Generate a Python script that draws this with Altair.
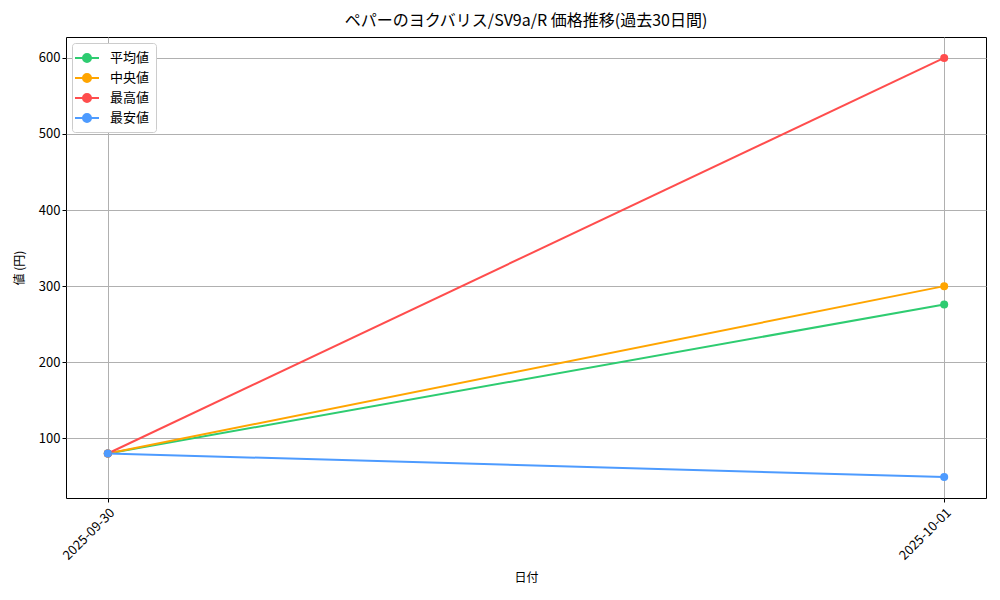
import altair as alt
import pandas as pd

FONT = "Noto Sans CJK JP"

dates = ["2025-09-30", "2025-10-01"]
series_names = ["平均値", "中央値", "最高値", "最安値"]
series_colors = ["#2ecc71", "#ffa500", "#ff4d4d", "#4d9bff"]
avg_prices = [80, 276]
median_prices = [80, 300]
max_prices = [80, 600]
min_prices = [80, 49]

rows = []
for name, vals in zip(series_names, [avg_prices, median_prices, max_prices, min_prices]):
    for d, v in zip(dates, vals):
        rows.append({"日付": d, "系列": name, "価格": v})
df = pd.DataFrame(rows)

legend_symbol = "M-1.5,0H1.5M-0.5,0A0.5,0.5,0,1,0,0.5,0A0.5,0.5,0,1,0,-0.5,0Z"

x_enc = alt.X(
    "日付:N",
    sort=dates,
    scale=alt.Scale(type="point", padding=0.05),
    axis=alt.Axis(title="日付", labelAngle=-45, labelAlign="right", labelBaseline="top",
                  labelPadding=4, titlePadding=10, grid=True, labelFontSize=13),
)
y_enc = alt.Y(
    "価格:Q",
    scale=alt.Scale(domain=[21.5, 627.5], nice=False, zero=False),
    axis=alt.Axis(title="値 (円)", values=[100, 200, 300, 400, 500, 600], titlePadding=12),
)
color_enc = alt.Color(
    "系列:N",
    scale=alt.Scale(domain=series_names, range=series_colors),
    sort=series_names,
    legend=alt.Legend(
        title=None, orient="top-left", symbolType=legend_symbol, symbolSize=256,
        symbolStrokeWidth=2, fillColor="white", strokeColor="#cccccc",
        padding=6, cornerRadius=3, offset=6, labelFontSize=13, labelFont=FONT,
        rowPadding=3, labelOffset=14,
    ),
)

lines = alt.Chart(df).mark_line(strokeWidth=2).encode(x=x_enc, y=y_enc, color=color_enc)
points = alt.Chart(df).mark_circle(size=64, opacity=1).encode(x=x_enc, y=y_enc, color=color_enc)

chart = (lines + points).properties(
    width=920,
    height=461,
    title=alt.Title("ペパーのヨクバリス/SV9a/R 価格推移(過去30日間)", fontSize=16,
                    font=FONT, fontWeight="normal", offset=8),
).configure_view(
    stroke="black", strokeWidth=1
).configure_axis(
    labelFont=FONT, titleFont=FONT, labelFontSize=13, titleFontSize=12,
    titleFontWeight="normal", labelColor="black", titleColor="black",
    gridColor="#b0b0b0", gridWidth=1, domain=False, tickColor="black", tickSize=4,
)

chart.save("out.html", embed_options={"renderer": "svg", "actions": False})
